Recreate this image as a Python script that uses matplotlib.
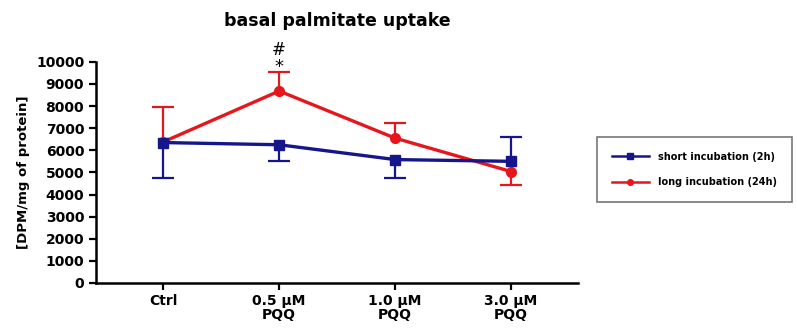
import numpy as np
import matplotlib.pyplot as plt
from matplotlib.lines import Line2D

groups = ['Ctrl', '0.5 µM\nPQQ', '1.0 µM\nPQQ', '3.0 µM\nPQQ']
short_mean = [6350, 6250, 5580, 5500]
short_lo = [1600, 720, 820, np.nan]
short_hi = [np.nan, np.nan, np.nan, 1120]
long_mean = [6380, 8680, 6550, 5040]
long_lo = [np.nan, np.nan, np.nan, 600]
long_hi = [1560, 850, 700, np.nan]

plt.rcParams['font.family'] = 'DejaVu Sans'
plt.rcParams['font.weight'] = 'bold'

fig = plt.figure(figsize=(7.97, 3.29), dpi=100)
ax = fig.add_axes([0.1205, 0.14, 0.605, 0.672])

x = np.arange(len(groups))
blue = '#16168c'
red = '#e5161c'


def one_sided_errors(mean, lo, hi, color, z):
    mean = np.array(mean, dtype=float)
    lo = np.array(lo, dtype=float)
    hi = np.array(hi, dtype=float)
    bottom = mean - np.nan_to_num(lo)
    top = mean + np.nan_to_num(hi)
    ax.vlines(x, bottom, top, color=color, lw=1.6, zorder=z)
    ends = np.where(np.isnan(lo), mean + hi, mean - lo)
    ax.plot(x, ends, ls='none', marker='_', markersize=16, markeredgewidth=1.6,
            color=color, zorder=z)


one_sided_errors(long_mean, long_lo, long_hi, red, 2)
one_sided_errors(short_mean, short_lo, short_hi, blue, 2)
ax.plot(x, long_mean, color=red, lw=2.4, marker='o', markersize=7, zorder=3)
ax.plot(x, short_mean, color=blue, lw=2.4, marker='s', markersize=7, zorder=4)

ax.text(1, 9350, '*', ha='center', va='bottom', fontsize=13, fontweight='normal')
ax.text(1, 10150, '#', ha='center', va='bottom', fontsize=12, fontweight='normal')

ax.set_xlim(-0.58, 3.58)
ax.set_ylim(0, 10000)
ax.set_yticks(np.arange(0, 10001, 1000))
ax.set_xticks(x)
ax.set_xticklabels(groups, fontsize=10, fontweight='bold', linespacing=1.0)
ax.tick_params(axis='y', labelsize=10, width=1.6, length=5)
ax.tick_params(axis='x', width=1.6, length=5, pad=3)
for lab in ax.get_yticklabels():
    lab.set_fontweight('bold')
for s in ['top', 'right']:
    ax.spines[s].set_visible(False)
for s in ['left', 'bottom']:
    ax.spines[s].set_linewidth(1.8)

ax.set_ylabel('[DPM/mg of protein]', fontsize=9.5, fontweight='bold', labelpad=4)
ax.set_title('basal palmitate uptake', fontsize=12.5, fontweight='bold', pad=26)

handles = [Line2D([], [], color=blue, lw=1.8, marker='s', markersize=4),
           Line2D([], [], color=red, lw=1.8, marker='o', markersize=4)]
labels = ['short incubation (2h)', 'long incubation (24h)']
leg = fig.legend(handles, labels, loc='upper left', bbox_to_anchor=(0.749, 0.585),
                 frameon=True, fancybox=False, edgecolor='#555555',
                 borderpad=1.55, handlelength=3.8, handletextpad=0.9, labelspacing=1.6,
                 borderaxespad=0, prop={'weight': 'bold', 'size': 7})
leg.get_frame().set_linewidth(1.2)

fig.savefig('out.png', dpi=100)
